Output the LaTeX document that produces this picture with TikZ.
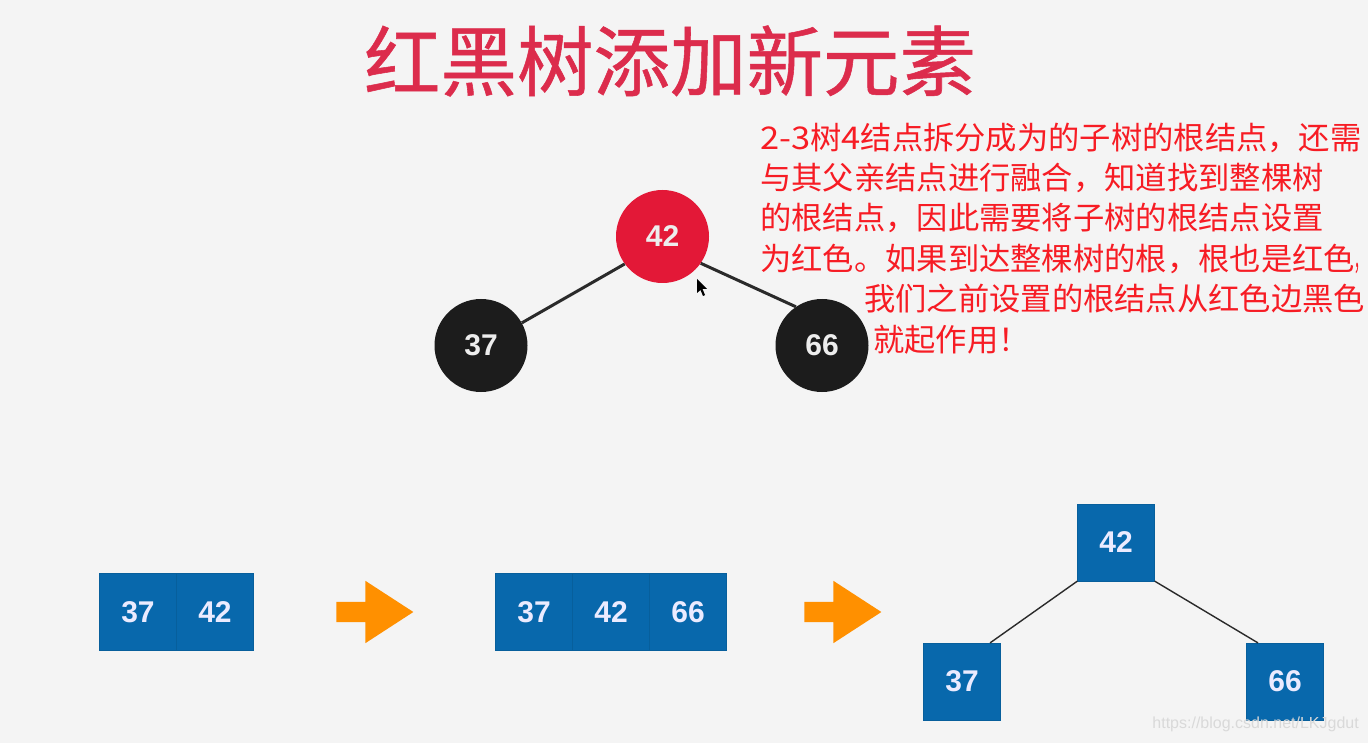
\documentclass[tikz,border=0pt]{standalone}
\usepackage{fontspec}
\setmainfont{Liberation Sans}
\newfontfamily\cjkfont{Noto Sans CJK SC}
\newfontfamily\titlefont[FakeBold=0.7]{Noto Sans CJK SC}
\usetikzlibrary{shapes.arrows}
\definecolor{rbback}{HTML}{F4F4F4}
\definecolor{rbred}{HTML}{E31837}
\definecolor{rbblack}{HTML}{1C1C1C}
\definecolor{rbedge}{HTML}{2A2A2A}
\definecolor{rbblue}{HTML}{0868AC}
\definecolor{rbseam}{HTML}{075F9C}
\definecolor{rbarrow}{HTML}{FF9000}
\definecolor{rbtitle}{HTML}{DC2C4C}
\definecolor{rbnote}{HTML}{F71C24}
\definecolor{rbmark}{HTML}{D9D9D9}
\tikzstyle{rbcircle}=[circle, draw=none, text=white!93!black, inner sep=0pt, minimum size=93pt, font=\bfseries\fontsize{30}{30}\selectfont]
\tikzstyle{rbbox}=[rectangle, draw=rbseam, line width=0.6pt, fill=rbblue, text=white!92!blue, inner sep=0pt, minimum size=76.6pt, font=\bfseries\fontsize{30}{30}\selectfont]
\tikzstyle{rbstep}=[single arrow, draw=none, fill=rbarrow, inner xsep=0pt, inner ysep=10pt, minimum height=77pt, minimum width=62pt, single arrow head extend=21pt, single arrow tip angle=66]
\tikzstyle{rbnote}=[anchor=west, inner sep=0pt, text=rbnote, font=\cjkfont\fontsize{31.3}{31.3}\selectfont]
\newcommand{\rbcircle}[4]{
	\node[rbcircle, fill=#4] (#1) at (#2) {#3};}
\newcommand{\rbbox}[3]{
	\node[rbbox] (#1) at (#2) {#3};}
\newcommand{\rbnote}[3]{
	\node[rbnote] (#1) at (#2) {#3};}
\newcommand{\rbwide}[1]{{\addfontfeature{FakeStretch=1.1}#1}}
\newcommand{\rbthin}[1]{{\addfontfeature{FakeStretch=0.4}#1}}
\begin{document}
\begin{tikzpicture}[x=1pt,y=-1pt]
\useasboundingbox (0,0) rectangle (1368,743);
\fill[rbback] (0,0) rectangle (1368,743);
\node[text=rbtitle, inner sep=0pt, font=\titlefont\fontsize{76.5}{76.5}\selectfont] (title) at (670,61) {红黑树添加新元素};
\rbcircle{red42}{662.5,236.5}{42}{rbred}
\rbcircle{black37}{481,345.5}{37}{rbblack}
\rbcircle{black66}{822,345.5}{66}{rbblack}
\path [draw=rbedge, line width=3pt] (red42.216) edge (black37.29);
\path [draw=rbedge, line width=3pt] (red42.-35) edge (black66.124);
\fill[black] (697,279) -- (697,293) -- (700.5,290) -- (703,296) -- (705,295) -- (702.5,289) -- (707,289) -- cycle;
\rbnote{noteA}{760,138}{\rbwide{2-3}树\rbwide{4}结点拆分成为的子树的根结点，还需}
\rbnote{noteB}{760,178}{与其父亲结点进行融合，知道找到整棵树}
\rbnote{noteC}{760,218}{的根结点，因此需要将子树的根结点设置}
\rbnote{noteD}{760,259}{为红色。如果到达整棵树的根，根也是红色\rbthin{，}}
\rbnote{noteE}{864,299}{我们之前设置的根结点从红色边黑色}
\rbnote{noteF}{873,340}{就起作用！}
\rbbox{first37}{138,612}{37}
\rbbox{first42}{215,612}{42}
\node[rbstep] (stepA) at (367,612) {};
\rbbox{second37}{534,612}{37}
\rbbox{second42}{611,612}{42}
\rbbox{second66}{688,612}{66}
\node[rbstep] (stepB) at (835,612) {};
\rbbox{top42}{1116,542.5}{42}
\rbbox{left37}{962,681.5}{37}
\rbbox{right66}{1285,681.5}{66}
\path [draw=rbedge, line width=1.4pt] (top42.south west) edge (left37.54.6);
\path [draw=rbedge, line width=1.4pt] (top42.south east) edge (right66.125);
\node[anchor=east, inner sep=0pt, text=rbmark, font=\fontsize{16}{16}\selectfont] (mark) at (1359,724) {https://blog.csdn.net/LKJgdut};
\end{tikzpicture}
\end{document}
